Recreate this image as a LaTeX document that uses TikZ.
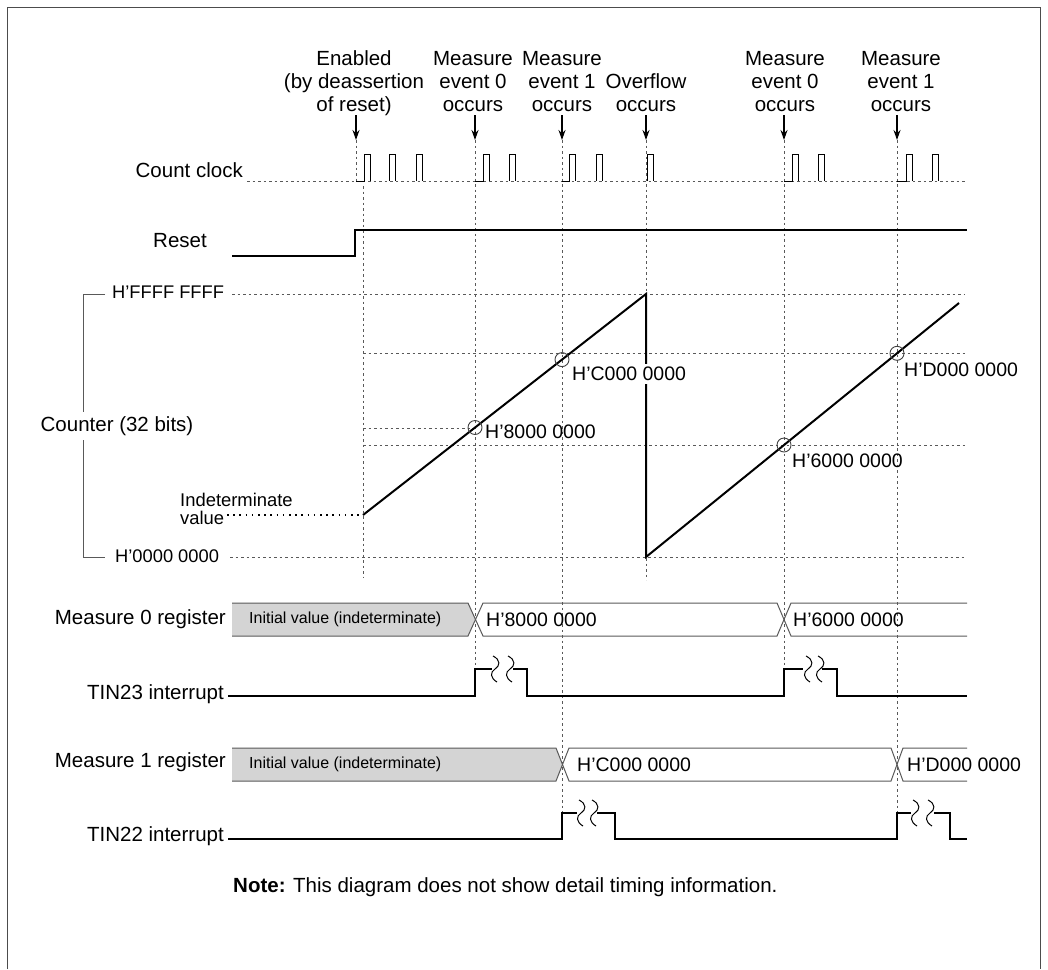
\documentclass[tikz,border=0pt]{standalone}
\usepackage{fontspec}
\setmainfont{Liberation Sans}
\usetikzlibrary{arrows.meta}
\begin{document}
\begin{tikzpicture}[x=1pt,y=-1pt,
  lbl/.style={font=\fontsize{20.5}{23}\selectfont, inner sep=0pt},
  hexl/.style={font=\fontsize{19.5}{23}\selectfont, inner sep=0pt},
  axl/.style={font=\fontsize{18.3}{22}\selectfont, inner sep=0pt},
  small/.style={font=\fontsize{16}{19}\selectfont, inner sep=0pt},
  indl/.style={font=\fontsize{18.4}{19}\selectfont, inner sep=0pt},
  guide/.style={draw=black!65, dash pattern=on 2.5pt off 3pt, line width=0.8pt},
  sig/.style={draw=black, line width=1.3pt},
  rampline/.style={draw=black, line width=2pt},
  regline/.style={draw=black!65, line width=1pt},
  evarrow/.style={draw=black, line width=1.2pt, -{Stealth[length=10pt,width=7pt]}},
  mark circle/.style={draw=black!75, line width=0.9pt, circle, minimum size=14pt, inner sep=0pt},
  squig/.style={draw=black, line width=1pt},
  frameline/.style={draw=black!70, line width=1pt}
]
\useasboundingbox (0,0) rectangle (1048,969);
\draw[frameline] (7,969) -- (7,7) -- (1040,7) -- (1040,969);

% ---------- event labels ----------
\node[lbl, align=center, anchor=base] (lEn) at (354,111) {Enabled\\(by deassertion\\of reset)};
\node[lbl, align=center, anchor=base] (lM0) at (473,111) {Measure\\event 0\\occurs};
\node[lbl, align=center, anchor=base] (lM1) at (562,111) {Measure\\event 1\\occurs};
\node[lbl, align=center, anchor=base] (lOv) at (646,111) {Overflow\\occurs};
\node[lbl, align=center, anchor=base] (lM0b) at (785,111) {Measure\\event 0\\occurs};
\node[lbl, align=center, anchor=base] (lM1b) at (901,111) {Measure\\event 1\\occurs};

% event arrow coordinates
\foreach \n/\x in {En/356, M0/475, M1/562, Ov/646, M0b/784, M1b/897}{
  \coordinate (a\n) at (\x,115);
  \coordinate (t\n) at (\x,140);
  \draw[evarrow] (a\n) -- (t\n);
}

% ---------- count clock ----------
\node[lbl, anchor=east] (cclk) at (243,170) {Count clock};
\coordinate (clkL) at (247,181);
\coordinate (clkR) at (965,181);
\draw[guide] (clkL) -- (clkR);
\draw[guide] (tEn) -- (356,181);
% clock pulses
\foreach \e/\p in {356/364, 475/483, 562/569, 784/792, 897/906}{
  \draw[sig, line width=1pt] (\e,181) -- (\p,181) -- (\p,154) -- (\p+6,154) -- (\p+6,181);
}
\foreach \p in {389, 416, 509, 596, 647, 818, 932}{
  \draw[sig, line width=1pt] (\p,181) -- (\p,154) -- (\p+6,154) -- (\p+6,181);
}

% ---------- vertical guides ----------
\draw[guide] (363,186) -- (363,578);
\draw[guide] (tM0) -- (475,669);
\draw[guide] (tM1) -- (562,813);
\draw[guide] (tOv) -- (646,580);
\draw[guide] (tM0b) -- (784,669);
\draw[guide] (tM1b) -- (897,813);

% ---------- reset ----------
\node[lbl, anchor=center] (rst) at (180,241) {Reset};
\draw[sig] (232,256) -- (355,256) -- (355,230) -- (967,230);

% ---------- counter ----------
\node[axl, anchor=west] (hF) at (112,292) {H’FFFF FFFF};
\node[axl, anchor=west] (h0) at (115,556) {H’0000 0000};
\draw[guide] (232,294) -- (965,294);
\draw[guide] (230,557) -- (965,557);
\draw[guide] (363,353) -- (965,353);
\draw[guide] (363,428) -- (475,428);
\draw[guide] (363,445) -- (965,445);
\draw[regline] (105,294) -- (83,294) -- (83,557) -- (105,557);
\node[lbl, fill=white, inner ysep=4pt, inner xsep=1pt] (cnt) at (117,426) {Counter (32 bits)};

\node[indl, anchor=west] (ind) at (180,500) {Indeterminate};
\node[indl, anchor=west] (indv) at (180,518) {value};
\coordinate (r0) at (363,515);
\draw[draw=black, line width=1.8pt, dash pattern=on 1.6pt off 4.6pt] (227,515) -- (r0);

\coordinate (pk) at (646,294);
\coordinate (bt) at (646,557);
\coordinate (r2) at (959,303);
\draw[rampline] (r0) -- (pk) -- (bt) -- (r2);

\node[mark circle] (c8) at (475,427.5) {};
\node[mark circle] (cC) at (562,359.6) {};
\node[mark circle] (c6) at (784,445) {};
\node[mark circle] (cD) at (897,353.3) {};

\node[hexl, anchor=west] (l8) at (485,432) {H’8000 0000};
\node[hexl, anchor=west, fill=white, inner ysep=3pt] (lC) at (572,374) {H’C000 0000};
\node[hexl, anchor=west] (l6) at (792,461) {H’6000 0000};
\node[hexl, anchor=west] (lD) at (904,370) {H’D000 0000};

% ---------- measure 0 register ----------
\node[lbl, anchor=east] (m0lab) at (226,619) {Measure 0 register};
\fill[black!17] (232,603) -- (468,603) -- (475.5,619.5) -- (468,636) -- (232,636) -- cycle;
\draw[regline] (232,603) -- (468,603) -- (483,636) -- (777,636) -- (791,603) -- (967,603);
\draw[regline] (232,636) -- (468,636) -- (483,603) -- (777,603) -- (791,636) -- (967,636);
\node[small, anchor=west] (m0i) at (249,619.5) {Initial value (indeterminate)};
\node[hexl, anchor=west] (m0v1) at (486,619.5) {H’8000 0000};
\node[hexl, anchor=west] (m0v2) at (793,619.5) {H’6000 0000};

% ---------- TIN23 ----------
\node[lbl, anchor=east] (t23) at (224,694) {TIN23 interrupt};
\draw[sig] (228,696) -- (475,696) -- (475,669) -- (492,669);
\draw[sig] (513,669) -- (527,669) -- (527,696) -- (784,696) -- (784,669) -- (803,669);
\draw[sig] (822,669) -- (837,669) -- (837,696) -- (967,696);

% ---------- measure 1 register ----------
\node[lbl, anchor=east] (m1lab) at (226,762) {Measure 1 register};
\fill[black!17] (232,748) -- (556,748) -- (562.5,764.5) -- (556,781) -- (232,781) -- cycle;
\draw[regline] (232,748) -- (556,748) -- (569,781) -- (891,781) -- (903,748) -- (967,748);
\draw[regline] (232,781) -- (556,781) -- (569,748) -- (891,748) -- (903,781) -- (967,781);
\node[small, anchor=west] (m1i) at (249,764.5) {Initial value (indeterminate)};
\node[hexl, anchor=west] (m1v1) at (577,764.5) {H’C000 0000};
\node[hexl, anchor=west] (m1v2) at (907,764.5) {H’D000 0000};

% ---------- TIN22 ----------
\node[lbl, anchor=east] (t22) at (224,836) {TIN22 interrupt};
\draw[sig] (228,839) -- (562,839) -- (562,813) -- (577,813);
\draw[sig] (597,813) -- (615,813) -- (615,839) -- (897,839) -- (897,813) -- (911,813);
\draw[sig] (934,813) -- (950,813) -- (950,839) -- (967,839);

% squiggles (break marks)
\foreach \sx/\sy in {495/669, 510/669, 808/669, 820/669, 581/813, 594/813, 915/813, 930/813}{
  \draw[squig] (\sx-2,\sy-13) .. controls (\sx+6,\sy-9) and (\sx+5,\sy-3) .. (\sx,\sy)
                .. controls (\sx-5,\sy+3) and (\sx-5,\sy+9) .. (\sx+2,\sy+13);
}

% ---------- note ----------
\node[lbl, anchor=west] (note) at (233,887) {\textbf{Note:} This diagram does not show detail timing information.};
\end{tikzpicture}
\end{document}
